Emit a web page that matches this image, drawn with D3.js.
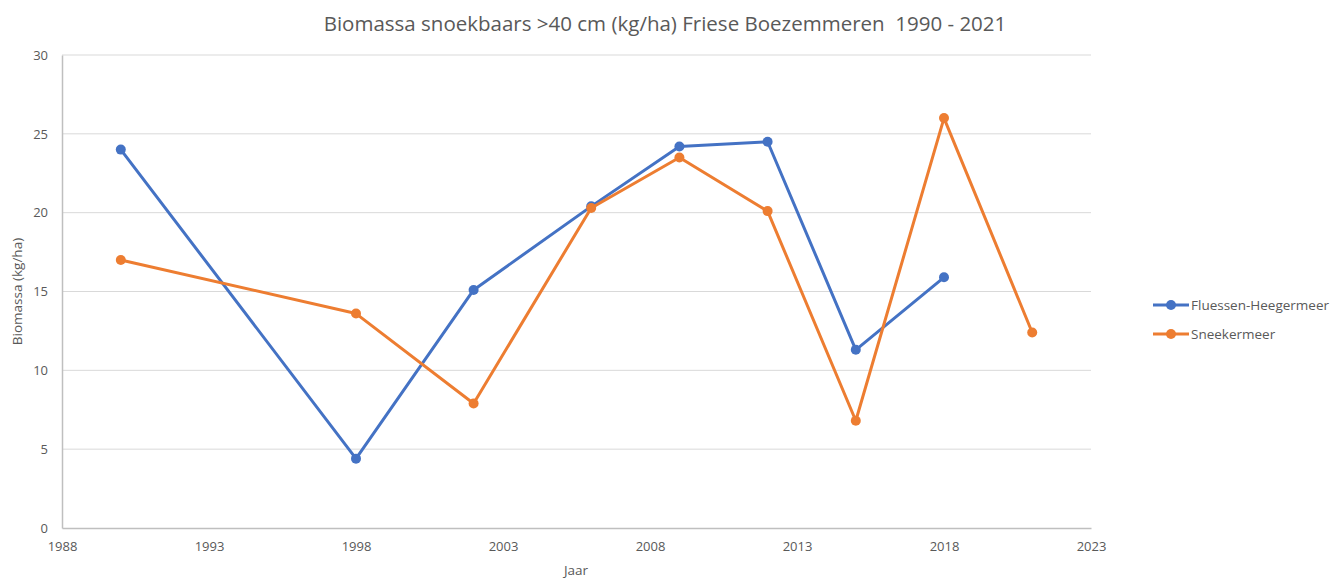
<!DOCTYPE html>
<html>
<head>
<meta charset="utf-8">
<script src="https://cdn.jsdelivr.net/npm/d3@7"></script>
<style>
  body { margin: 0; background: #fff; }
  svg text { font-family: "Open Sans", "Noto Sans", sans-serif; fill: #595959; }
</style>
</head>
<body>
<div id="chart"></div>
<script>
// ---------------------------- DATA ----------------------------//
const fluessenYears = [1990, 1998, 2002, 2006, 2009, 2012, 2015, 2018];
const fluessenValues = [24.0, 4.4, 15.1, 20.4, 24.2, 24.5, 11.3, 15.9];
const sneekYears = [1990, 1998, 2002, 2006, 2009, 2012, 2015, 2018, 2021];
const sneekValues = [17.0, 13.6, 7.9, 20.3, 23.5, 20.1, 6.8, 26.0, 12.4];
const xTicks = [1988, 1993, 1998, 2003, 2008, 2013, 2018, 2023];
const yTicks = [0, 5, 10, 15, 20, 25, 30];

const series = [
  { name: "Fluessen-Heegermeer", color: "#4472c4",
    values: fluessenYears.map((y, i) => ({ year: y, value: fluessenValues[i] })) },
  { name: "Sneekermeer", color: "#ed7d31",
    values: sneekYears.map((y, i) => ({ year: y, value: sneekValues[i] })) }
];

// ---------------------------- SVG -----------------------------//
const width = 1341, height = 581;
const plot = { left: 62, right: 1091, top: 55, bottom: 528 };

const svg = d3.select("#chart").append("svg")
  .attr("width", width)
  .attr("height", height);

const xScale = d3.scaleLinear().domain([1988, 2023]).range([plot.left, plot.right]);
const yScale = d3.scaleLinear().domain([0, 30]).range([plot.bottom, plot.top]);

// gridlines
svg.append("g")
  .selectAll("line")
  .data(yTicks.filter(d => d > 0))
  .enter().append("line")
  .attr("x1", plot.left).attr("x2", plot.right)
  .attr("y1", d => yScale(d)).attr("y2", d => yScale(d))
  .attr("stroke", "#d9d9d9").attr("stroke-width", 1);

// axes
const yaxis = d3.axisLeft(yScale).tickValues(yTicks).tickSize(0).tickPadding(14);
const yg = svg.append("g").attr("transform", "translate(" + plot.left + ",0)").call(yaxis);
yg.select(".domain").attr("stroke", "#bfbfbf").attr("stroke-width", 1.5);
yg.selectAll("text").style("font-size", "13px");

const xaxis = d3.axisBottom(xScale).tickValues(xTicks).tickFormat(d3.format("d")).tickSize(0).tickPadding(14);
const xg = svg.append("g").attr("transform", "translate(0," + plot.bottom + ")").call(xaxis);
xg.select(".domain").attr("stroke", "#bfbfbf").attr("stroke-width", 1.5);
xg.selectAll("text").style("font-size", "13px");

// titles
svg.append("text")
  .attr("x", 665).attr("y", 31)
  .attr("text-anchor", "middle")
  .style("font-size", "20.5px")
  .style("white-space", "pre")
  .text("Biomassa snoekbaars >40 cm (kg/ha) Friese Boezemmeren  1990 - 2021");

svg.append("text")
  .attr("x", 576).attr("y", 575)
  .attr("text-anchor", "middle")
  .style("font-size", "13.5px")
  .text("Jaar");

svg.append("text")
  .attr("transform", "translate(22," + ((plot.top + plot.bottom) / 2) + ") rotate(-90)")
  .attr("text-anchor", "middle")
  .style("font-size", "13.5px")
  .text("Biomassa (kg/ha)");

// ---------------------------- LINES ---------------------------//
const line = d3.line()
  .x(d => xScale(d.year))
  .y(d => yScale(d.value));

const lines = svg.selectAll(".serie")
  .data(series)
  .enter().append("g")
  .attr("class", "serie");

lines.append("path")
  .attr("d", d => line(d.values))
  .attr("fill", "none")
  .attr("stroke", d => d.color)
  .attr("stroke-width", 3)
  .attr("stroke-linejoin", "round");

lines.selectAll("circle")
  .data(d => d.values.map(v => ({ ...v, color: d.color })))
  .enter().append("circle")
  .attr("cx", d => xScale(d.year))
  .attr("cy", d => yScale(d.value))
  .attr("r", 5)
  .attr("fill", d => d.color);

// ---------------------------- LEGEND --------------------------//
const legend = svg.selectAll(".legend")
  .data(series)
  .enter().append("g")
  .attr("class", "legend")
  .attr("transform", (d, i) => "translate(1153," + (305 + i * 29) + ")");

legend.append("line")
  .attr("x1", 0).attr("x2", 36)
  .attr("stroke", d => d.color).attr("stroke-width", 3);
legend.append("circle")
  .attr("cx", 18).attr("r", 5)
  .attr("fill", d => d.color);
legend.append("text")
  .attr("x", 38).attr("dy", "0.35em")
  .style("font-size", "13.5px")
  .text(d => d.name);
</script>
</body>
</html>
